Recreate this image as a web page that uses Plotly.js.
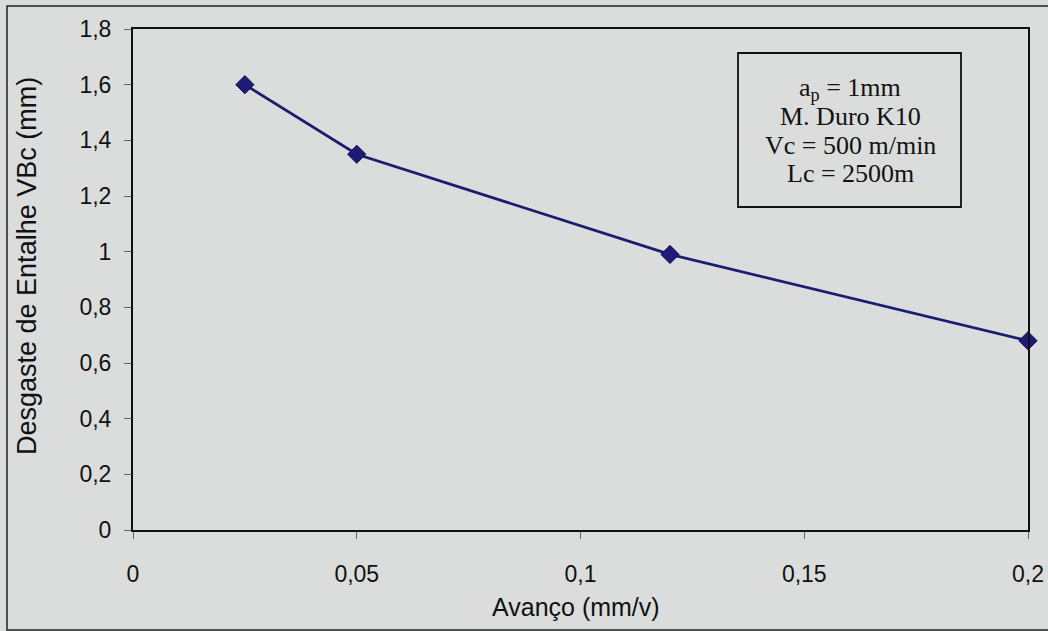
<!DOCTYPE html>
<html>
<head>
<meta charset="utf-8">
<script src="https://cdn.plot.ly/plotly-3.0.1.min.js"></script>
<style>html,body{margin:0;padding:0;background:#dadddb;}</style>
</head>
<body>
<div id="chart" style="width:1048px;height:631px;"></div>
<script>
const avanco = [0.025, 0.05, 0.12, 0.2];
const desgaste = [1.6, 1.35, 0.99, 0.68];
const xTicks = [0, 0.05, 0.1, 0.15, 0.2];
const yTicks = [0, 0.2, 0.4, 0.6, 0.8, 1.0, 1.2, 1.4, 1.6, 1.8];
const xTitle = 'Avanço (mm/v)';
const yTitle = 'Desgaste de Entalhe VBc (mm)';
const boxLines = ['a<sub>p</sub> = 1mm', 'M. Duro K10', 'Vc = 500 m/min', 'Lc = 2500m'];

const bg = '#dadddb';
// plot area in pixels: left 133, right 1028, top 29, bottom 530
const L = 133, R = 1028, T = 29, B = 530;
const px = v => (v - L) / (R - L);
const py = v => (B - v) / (B - T);

const trace = {
  x: avanco, y: desgaste, type: 'scatter', mode: 'lines+markers',
  line: {color: '#1c1c6e', width: 2.8},
  marker: {symbol: 'diamond', size: 14, color: '#1c1c78', line: {color: '#10104a', width: 1}},
  showlegend: false, cliponaxis: false
};

const sans = 'Liberation Sans, Arial, sans-serif';
const tickFont = {family: sans, size: 23, color: '#111'};
const annotations = [
  {text: xTitle, xref: 'paper', yref: 'paper', x: px(576), y: py(607), xanchor: 'center', yanchor: 'middle',
   showarrow: false, font: {family: sans, size: 25, color: '#111'}},
  {text: yTitle, xref: 'paper', yref: 'paper', x: px(27), y: py(266), xanchor: 'center', yanchor: 'middle',
   textangle: -90, showarrow: false, font: {family: sans, size: 27, color: '#111'}}
];
boxLines.forEach((t, i) => {
  annotations.push({text: t, xref: 'paper', yref: 'paper', x: px(850), y: py(89 + 28 * i),
    xanchor: 'center', yanchor: 'middle', showarrow: false,
    font: {family: 'Liberation Serif, Times New Roman, serif', size: 26, color: '#111'}});
});

const layout = {
  width: 1048, height: 631,
  paper_bgcolor: bg, plot_bgcolor: bg,
  separators: ',.',
  margin: {l: L, r: 1048 - R, t: T, b: 631 - B},
  xaxis: {
    range: [0, 0.2], tickvals: xTicks, ticks: 'outside', ticklen: 7, tickcolor: '#666', tickwidth: 1,
    showgrid: false, zeroline: false, showline: true, linecolor: '#111', linewidth: 2, mirror: true,
    tickfont: tickFont, ticklabelstandoff: 15
  },
  yaxis: {
    range: [0, 1.8], tickvals: yTicks, ticks: 'outside', ticklen: 7, tickcolor: '#666', tickwidth: 1,
    showgrid: false, zeroline: false, showline: true, linecolor: '#111', linewidth: 2, mirror: true,
    tickfont: tickFont, ticklabelstandoff: 8
  },
  annotations: annotations,
  shapes: [
    {type: 'rect', xref: 'paper', yref: 'paper', x0: px(738), x1: px(961),
     y0: py(207), y1: py(53), line: {color: '#111', width: 1.8}, fillcolor: 'rgba(0,0,0,0)'},
    {type: 'rect', xref: 'paper', yref: 'paper', x0: px(7), x1: px(1055),
     y0: py(630), y1: py(6), line: {color: '#222', width: 1.5}, fillcolor: 'rgba(0,0,0,0)'}
  ]
};
Plotly.newPlot('chart', [trace], layout, {displayModeBar: false, staticPlot: true});
</script>
</body>
</html>
